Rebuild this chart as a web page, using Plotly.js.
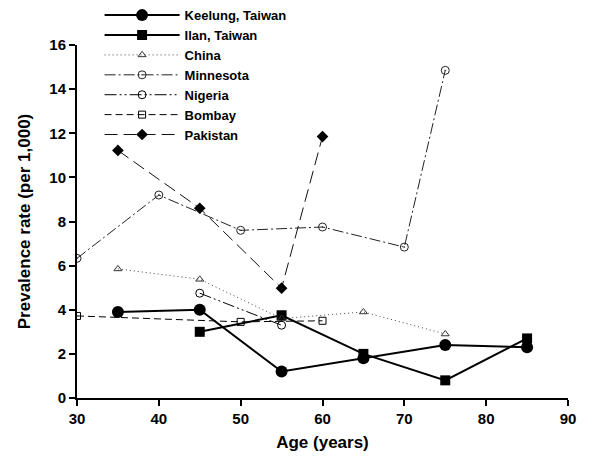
<!DOCTYPE html>
<html>
<head>
<meta charset="utf-8">
<script src="https://cdn.plot.ly/plotly-3.0.1.min.js"></script>
<style>html,body{margin:0;padding:0;background:#fff;}#chart{width:591px;height:460px;}</style>
</head>
<body>
<div id="chart"></div>
<script>
// Data
const keelungAge = [35, 45, 55, 65, 75, 85];
const keelungRate = [3.9, 4.0, 1.2, 1.8, 2.4, 2.3];

const ilanAge = [45, 55, 65, 75, 85];
const ilanRate = [3.0, 3.75, 2.0, 0.8, 2.7];

const chinaAge = [35, 45, 55, 65, 75];
const chinaRate = [5.85, 5.38, 3.6, 3.9, 2.9];

const minnesotaAge = [30, 40, 50, 60, 70, 75];
const minnesotaRate = [6.33, 9.2, 7.6, 7.75, 6.84, 14.85];

const nigeriaAge = [45, 55];
const nigeriaRate = [4.75, 3.3];

const bombayAge = [30, 50, 60];
const bombayRate = [3.72, 3.45, 3.5];

const pakistanAge = [35, 45, 55, 60];
const pakistanRate = [11.22, 8.6, 4.98, 11.85];

const xTicks = [30, 40, 50, 60, 70, 80, 90];
const yTicks = [0, 2, 4, 6, 8, 10, 12, 14, 16];

const traces = [
  {x: keelungAge, y: keelungRate, name: 'Keelung, Taiwan', mode: 'lines+markers',
   line: {color: '#000', width: 2}, marker: {symbol: 'circle', size: 12, color: '#000'}},
  {x: ilanAge, y: ilanRate, name: 'Ilan, Taiwan', mode: 'lines+markers',
   line: {color: '#000', width: 2}, marker: {symbol: 'square', size: 10, color: '#000'}},
  {x: chinaAge, y: chinaRate, name: 'China', mode: 'lines+markers',
   line: {color: '#444', width: 1, dash: '1px,3px'},
   marker: {symbol: 'triangle-up-open', size: 7, color: '#333', line: {width: 1}}},
  {x: minnesotaAge, y: minnesotaRate, name: 'Minnesota', mode: 'lines+markers',
   line: {color: '#222', width: 1, dash: '11px,3px,2px,3px'},
   marker: {symbol: 'circle-open-dot', size: 8, color: '#222', line: {width: 1}}},
  {x: nigeriaAge, y: nigeriaRate, name: 'Nigeria', mode: 'lines+markers',
   line: {color: '#000', width: 1, dash: '12px,3px,2px,3px,2px,3px'},
   marker: {symbol: 'circle-open', size: 8, color: '#000', line: {width: 1}}},
  {x: bombayAge, y: bombayRate, name: 'Bombay', mode: 'lines+markers',
   line: {color: '#000', width: 1, dash: '7px,4px'},
   marker: {symbol: 'square-open', size: 7, color: '#000', line: {width: 1}}},
  {x: pakistanAge, y: pakistanRate, name: 'Pakistan', mode: 'lines+markers',
   line: {color: '#111', width: 1, dash: '13px,6px'},
   marker: {symbol: 'diamond', size: 9, color: '#000'}}
];

const fontFam = 'Liberation Sans, Arial, sans-serif';

const layout = {
  width: 591, height: 460,
  margin: {l: 77, r: 23, t: 45, b: 62, autoexpand: false},
  paper_bgcolor: '#fff', plot_bgcolor: '#fff',
  font: {family: fontFam, color: '#000', size: 15},
  showlegend: true,
  legend: {
    x: 0.046, y: 1.127, xanchor: 'left', yanchor: 'top',
    bgcolor: 'rgba(0,0,0,0)', tracegroupgap: 0, itemwidth: 75,
    font: {family: fontFam, size: 13, color: '#000', weight: 'bold'}
  },
  xaxis: {
    range: [30, 90], tickvals: xTicks, ticktext: xTicks.map(String),
    showgrid: false, zeroline: false, showline: true, linecolor: '#000', linewidth: 2,
    ticks: 'outside', ticklen: 6, tickwidth: 2, tickcolor: '#000',
    tickfont: {family: fontFam, size: 15, weight: 'bold'},
    title: {text: 'Age (years)', font: {family: fontFam, size: 17, weight: 'bold'}, standoff: 10}
  },
  yaxis: {
    range: [0, 16], tickvals: yTicks, ticktext: yTicks.map(String),
    showgrid: false, zeroline: false, showline: true, linecolor: '#000', linewidth: 2,
    ticks: 'outside', ticklen: 6, tickwidth: 2, tickcolor: '#000',
    tickfont: {family: fontFam, size: 15, weight: 'bold'},
    title: {text: 'Prevalence rate (per 1,000)', font: {family: fontFam, size: 17, weight: 'bold'}, standoff: 14}
  }
};

Plotly.newPlot('chart', traces, layout, {displayModeBar: false, staticPlot: true});
</script>
</body>
</html>
